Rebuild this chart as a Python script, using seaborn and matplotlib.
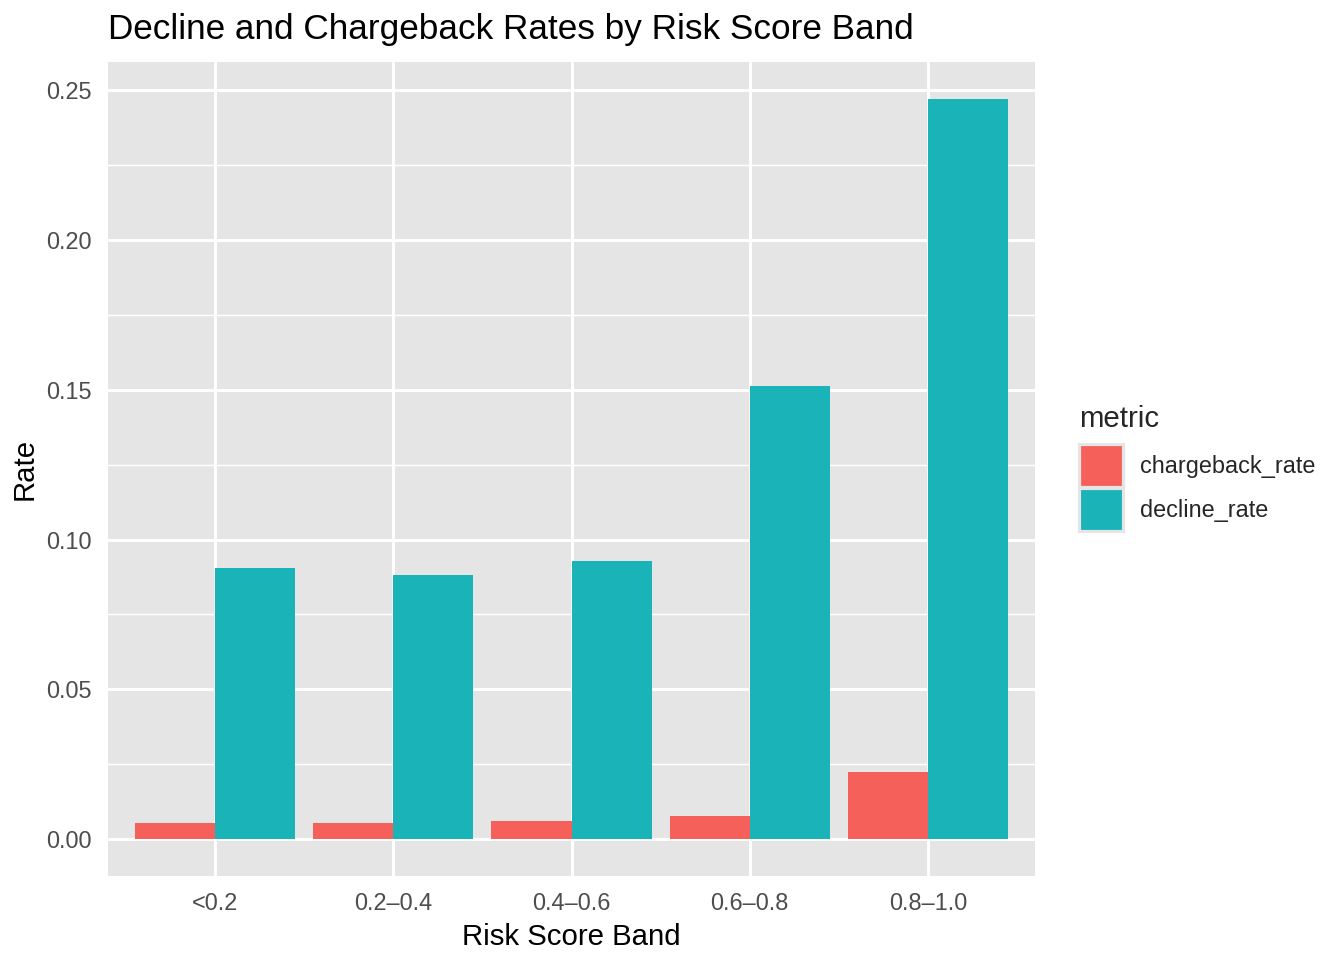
import matplotlib
matplotlib.use("Agg")
import matplotlib.pyplot as plt
import numpy as np
import pandas as pd
import seaborn as sns
from matplotlib.patches import Patch

# values
bands = ["<0.2", "0.2–0.4", "0.4–0.6", "0.6–0.8", "0.8–1.0"]
chargeback_rate = [0.0053, 0.0053, 0.0060, 0.0077, 0.0224]
decline_rate = [0.0905, 0.0881, 0.0928, 0.1512, 0.2471]
metrics = ["chargeback_rate", "decline_rate"]
colors = ["#F5605B", "#19B3B8"]

df = pd.DataFrame({
    "band": bands * 2,
    "metric": [metrics[0]] * len(bands) + [metrics[1]] * len(bands),
    "rate": chargeback_rate + decline_rate,
})

sns.set_style("white")
plt.rcParams["font.family"] = ["Liberation Sans", "DejaVu Sans"]

panel_bg = "#E5E5E5"
fig = plt.figure(figsize=(7, 5), dpi=192)
ax = fig.add_axes([108 / 1344, 1 - 876 / 960, (1035 - 108) / 1344, (876 - 62) / 960])
ax.set_facecolor(panel_bg)

sns.barplot(
    data=df, x="band", y="rate", hue="metric", order=bands, hue_order=metrics,
    palette=colors, saturation=1, width=0.9, gap=0, linewidth=0, ax=ax, legend=False,
)

# ggplot-like grid and expansion
ymax = max(decline_rate)
ax.set_xlim(-0.6, len(bands) - 0.4)
ax.set_ylim(-0.05 * ymax, 1.05 * ymax)
major = np.arange(0, 0.26, 0.05)
ax.set_yticks(major)
ax.set_yticks(major[:-1] + 0.025, minor=True)
ax.set_yticklabels([f"{v:.2f}" for v in major])
ax.grid(True, which="major", color="white", linewidth=1.1)
ax.grid(True, which="minor", axis="y", color="white", linewidth=0.55)
ax.set_axisbelow(True)
for s in ax.spines.values():
    s.set_visible(False)

ax.tick_params(axis="both", which="major", length=3.5, width=0.9, color="#333333",
               labelcolor="#4D4D4D", labelsize=8.8, pad=2.5)
ax.tick_params(axis="y", which="minor", length=0)

ax.set_xlabel("Risk Score Band", fontsize=11, color="black", labelpad=3)
ax.set_ylabel("Rate", fontsize=11, color="black")
ax.yaxis.set_label_coords(-0.075, 0.5)
ax.set_title("Decline and Chargeback Rates by Risk Score Band", fontsize=13.2,
             loc="left", x=0.0, pad=8.5, color="black")

handles = [Patch(facecolor=c, edgecolor=panel_bg, linewidth=1.2) for c in colors]
leg = fig.legend(handles, metrics, title="metric", loc="upper left",
                 bbox_to_anchor=(1070 / 1344, 1 - 396 / 960), frameon=False,
                 fontsize=8.8, title_fontsize=11, handlelength=1.85, handleheight=2.45,
                 handletextpad=0.75, labelspacing=0.05, borderaxespad=0)
leg._legend_box.align = "left"
leg._legend_box.sep = 4.0

fig.savefig("out.png", dpi=192)
